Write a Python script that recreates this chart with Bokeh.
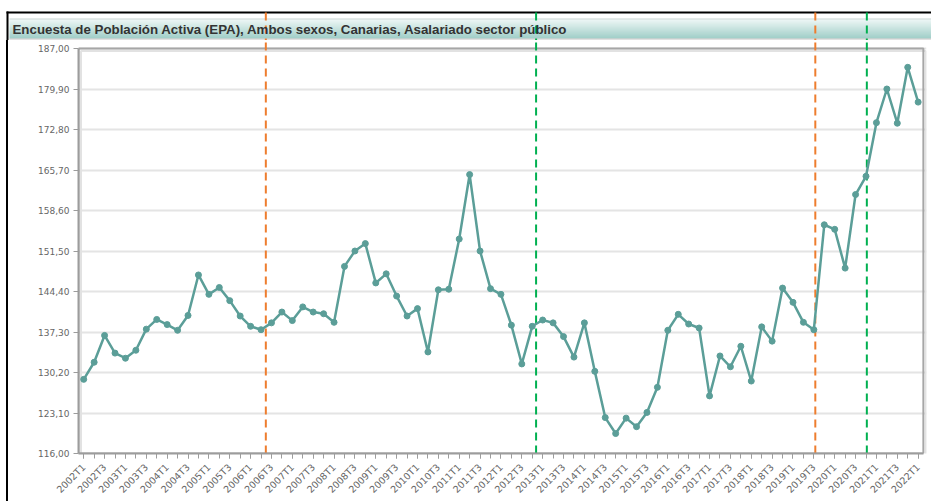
import math
from bokeh.plotting import figure
from bokeh.layouts import column, row
from bokeh.models import Range1d, FixedTicker, BoxAnnotation, Label, ColumnDataSource, Div
from bokeh.embed import file_html
from bokeh.resources import INLINE

# ---------------- data ----------------
title_text = "Encuesta de Población Activa (EPA), Ambos sexos, Canarias, Asalariado sector público"
quarters = [f"{y}T{q}" for y in range(2002, 2023) for q in (1, 2, 3, 4)][:81]
values = [
    129.0, 132.0, 136.7, 133.6, 132.7, 134.1, 137.8, 139.5, 138.6, 137.6,
    140.2, 147.3, 143.9, 145.1, 142.8, 140.1, 138.3, 137.7, 138.9, 140.8,
    139.3, 141.7, 140.8, 140.5, 139.0, 148.8, 151.5, 152.8, 145.9, 147.5,
    143.6, 140.1, 141.4, 133.8, 144.7, 144.8, 153.6, 164.9, 151.5, 144.9,
    143.9, 138.5, 131.7, 138.3, 139.4, 138.9, 136.5, 132.9, 138.9, 130.4,
    122.3, 119.5, 122.2, 120.7, 123.2, 127.6, 137.6, 140.4, 138.7, 138.0,
    126.1, 133.1, 131.2, 134.8, 128.7, 138.2, 135.7, 145.0, 142.5, 139.0,
    137.7, 156.1, 155.3, 148.5, 161.4, 164.6, 174.0, 179.9, 173.9, 183.7,
    177.6,
]
y_ticks = [116.0, 123.1, 130.2, 137.3, 144.4, 151.5, 158.6, 165.7, 172.8, 179.9, 187.0]
y_tick_labels = ["116,00", "123,10", "130,20", "137,30", "144,40", "151,50",
                 "158,60", "165,70", "172,80", "179,90", "187,00"]
orange_marks = [17.46, 70.14]   # positions (quarter index) of orange dashed markers
green_marks = [43.37, 75.08]    # positions of green dashed markers

# ---------------- layout constants (page pixels) ----------------
PAGE_W = 931
TOP_H = 40                      # height of the title strip figure
MAIN_H = 461
STRIP_W = 9
MAIN_W = PAGE_W - STRIP_W
FRAME_L, FRAME_R = 78, 926      # plot frame in page x
FRAME_B = 453                   # plot frame bottom in page y
Y187 = 48                       # page y of the top value
X_PAD = 0.3                     # extra room (index units) right of last point

n = len(values)
idx = list(range(n))
y0, y1 = y_ticks[0], y_ticks[-1]
ppu = (FRAME_B - Y187) / (y1 - y0)
y_end = y1 + (Y187 - TOP_H) / ppu
x_start, x_end = -0.5, n - 0.5 + X_PAD
ppx = (FRAME_R - FRAME_L) / (x_end - x_start)

GRID = "#e4e4e4"
AXIS = "#9c9c9c"
LINE = "#5b9e98"
ORANGE = "#ee7d2e"
GREEN = "#00b050"
DASH = "8 5"


def canvas_box(fig, l, r, t, b, color, level="underlay"):
    fig.add_layout(BoxAnnotation(left=l, right=r, top=t, bottom=b,
                                 left_units="canvas", right_units="canvas",
                                 top_units="canvas", bottom_units="canvas",
                                 fill_color=color, fill_alpha=1, line_color=None,
                                 level=level))


# ---------------- title strip ----------------
tf = figure(width=PAGE_W, height=TOP_H, output_backend="svg", toolbar_location=None,
            x_range=Range1d(x_start - FRAME_L / ppx, x_start + (PAGE_W - FRAME_L) / ppx),
            y_range=Range1d(TOP_H, 0), x_axis_type=None, y_axis_type=None,
            min_border=0, min_border_left=0, min_border_right=0,
            min_border_top=0, min_border_bottom=0)
tf.outline_line_color = None
tf.background_fill_color = "white"
tf.border_fill_color = "white"

c_top = (230, 243, 241)
c_bot = (131, 191, 183)
bar_top, bar_bot = 19, 38
steps = bar_bot - bar_top
for k in range(steps):
    t = k / (steps - 1)
    col = tuple(int(round(a + (b - a) * t)) for a, b in zip(c_top, c_bot))
    canvas_box(tf, 9, PAGE_W, bar_top + k, bar_top + k + 1, "#%02x%02x%02x" % col)
canvas_box(tf, 9, PAGE_W, bar_top - 1, bar_top, "#c9d6d4")
canvas_box(tf, 9, PAGE_W, bar_bot, bar_bot + 1, "#c4c4c4")
canvas_box(tf, 6, PAGE_W, 11, 13, "black")
canvas_box(tf, 6, 8, 11, TOP_H, "black")

tf.add_layout(Label(x=12, y=29, x_units="canvas", y_units="canvas", text=title_text,
                    text_font="Liberation Sans", text_font_style="bold",
                    text_font_size="13.3px", text_color="#333333",
                    text_baseline="middle", text_align="left"))

tf.segment(x0=orange_marks, y0=[12] * len(orange_marks), x1=orange_marks, y1=[TOP_H] * len(orange_marks),
           line_color=ORANGE, line_width=2, line_dash=DASH)
tf.segment(x0=green_marks, y0=[12] * len(green_marks), x1=green_marks, y1=[TOP_H] * len(green_marks),
           line_color=GREEN, line_width=2, line_dash=DASH)

# ---------------- left black frame line ----------------
sf = Div(text="", width=2, height=MAIN_H, margin=(0, STRIP_W - 8, 0, 6),
         styles={"background-color": "black"})

# ---------------- main chart ----------------
p = figure(width=MAIN_W, height=MAIN_H, output_backend="svg", toolbar_location=None,
           x_range=Range1d(x_start, x_end), y_range=Range1d(y0, y_end),
           min_border_left=FRAME_L - STRIP_W, min_border_right=PAGE_W - FRAME_R,
           min_border_top=0, min_border_bottom=TOP_H + MAIN_H - FRAME_B)
p.outline_line_color = None
p.background_fill_color = "white"
p.border_fill_color = "white"
p.xgrid.visible = False

yt = FixedTicker(ticks=y_ticks)
p.ygrid.ticker = yt
p.ygrid.grid_line_color = GRID
p.ygrid.grid_line_width = 2

yax = p.yaxis[0]
yax.ticker = yt
yax.bounds = (y0, y1)
yax.major_label_overrides = dict(zip(y_ticks, y_tick_labels))
yax.axis_line_color = AXIS
yax.axis_line_width = 2
yax.major_tick_line_color = AXIS
yax.major_tick_out = 5
yax.major_tick_in = 0
yax.minor_tick_line_color = None
yax.major_label_text_font = "DejaVu Sans"
yax.major_label_text_font_size = "9px"
yax.major_label_text_color = "#666666"
yax.major_label_standoff = 4

xax = p.xaxis[0]
xax.ticker = FixedTicker(ticks=list(range(0, n, 2)), minor_ticks=idx)
xax.bounds = (x_start, n - 0.5)
xax.major_label_overrides = {i: quarters[i] for i in range(0, n, 2)}
xax.major_label_orientation = math.pi / 4
xax.axis_line_color = AXIS
xax.axis_line_width = 2
xax.major_tick_line_color = AXIS
xax.minor_tick_line_color = AXIS
xax.major_tick_out = 5
xax.major_tick_in = 0
xax.minor_tick_out = 5
xax.minor_tick_in = 0
xax.major_label_text_font = "DejaVu Sans"
xax.major_label_text_font_size = "9.5px"
xax.major_label_text_color = "#666666"
xax.major_label_standoff = 7

# plot box border (top / right) with a soft shadow on the right
p.add_layout(BoxAnnotation(left=x_start + 2.5 / ppx, right=n - 0.5 + 2.5 / ppx,
                           bottom=y0 - 2.5 / ppu, top=y1 - 2.5 / ppu,
                           fill_alpha=0, line_color="#e2e2e2", line_width=2,
                           line_alpha=1, level="underlay"))
p.add_layout(BoxAnnotation(left=x_start, right=n - 0.5, bottom=y0, top=y1,
                           fill_alpha=0, line_color="#a6a6a6", line_width=2,
                           line_alpha=1, level="underlay"))

# dashed event markers
p.segment(x0=orange_marks, y0=[y0] * len(orange_marks), x1=orange_marks, y1=[y_end] * len(orange_marks),
          line_color=ORANGE, line_width=2, line_dash=DASH)
p.segment(x0=green_marks, y0=[y0] * len(green_marks), x1=green_marks, y1=[y_end] * len(green_marks),
          line_color=GREEN, line_width=2, line_dash=DASH)

# series
src = ColumnDataSource(dict(x=idx, y=values, q=quarters))
p.line("x", "y", source=src, line_color=LINE, line_width=2.5)
p.scatter("x", "y", source=src, size=6, fill_color=LINE, line_color=LINE)

layout = column(tf, row(sf, p, spacing=0), spacing=0)
open("out.html", "w").write(file_html(layout, INLINE))
